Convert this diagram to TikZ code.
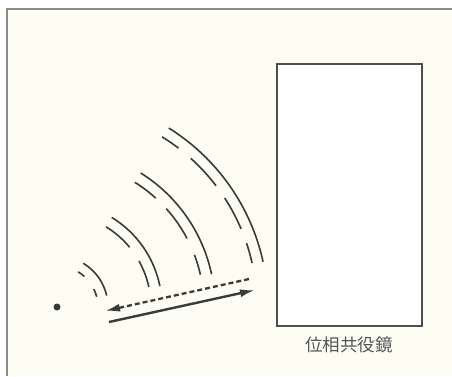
\documentclass[tikz,border=0pt]{standalone}
\usepackage{fontspec}
\newfontfamily\cjk{Noto Sans CJK JP}
\usetikzlibrary{arrows.meta}
\definecolor{paper}{HTML}{FDFDF3}
\definecolor{ink}{HTML}{3A3A3A}
\definecolor{labelgray}{HTML}{555555}
\tikzset{
  frameline/.style={draw=black!45, line width=1.2pt},
  wave/.style={draw=ink, line width=1.6pt},
  mirrorbox/.style={draw=ink!90, line width=1.9pt, fill=white, minimum width=145pt, minimum height=262pt, inner sep=0pt},
  srcdot/.style={circle, fill=ink, inner sep=0pt, minimum size=7pt},
  labeltext/.style={text=labelgray, font=\cjk\fontsize{17.5}{20}\selectfont, inner sep=0pt},
  outarrow/.style={draw=ink, line width=2.4pt, -{Latex[length=15pt,width=8pt]}},
  backarrow/.style={draw=ink, line width=2.3pt, dash pattern=on 5pt off 3pt, -{Latex[length=15pt,width=8pt]}}
}
\begin{document}
\begin{tikzpicture}[x=1pt,y=1pt]
\useasboundingbox (0,0) rectangle (452,376);
\fill[white] (0,0) rectangle (452,376);
\fill[paper] (7,0) rectangle (452,367);
\draw[frameline] (7,0) -- (7,367) -- (452,367);
% mirror
\node[mirrorbox] (mirror) at (349.5,181) {};
\node[labeltext] (lbl) at (349,31) {位相共役鏡};
% source
\node[srcdot] (src) at (57,69) {};
% solid outer arcs
\foreach \r/\a/\b in {51/13/59, 105/11.5/58.6, 158/12/58, 211/12.4/58}{
  \draw[wave] (src.center) ++(\a:\r pt) arc[start angle=\a, end angle=\b, radius=\r pt];
}
% dashed inner arcs
\foreach \r/\a/\b in {41/48/59, 41/14.5/26,
                      94/39.4/58.5, 94/12.3/29.3,
                      147/47.8/58, 147/27.8/42, 147/12.7/20.8,
                      200/52.6/58.3, 200/37.3/48, 200/23/33, 200/12.7/18.6}{
  \draw[wave] (src.center) ++(\a:\r pt) arc[start angle=\a, end angle=\b, radius=\r pt];
}
% arrows
\coordinate (b1) at (249,97);
\coordinate (b2) at (105,65);
\coordinate (o1) at (109,54);
\coordinate (o2) at (255,86);
\draw[backarrow] (b1) -- (b2);
\draw[outarrow] (o1) -- (o2);
\end{tikzpicture}
\end{document}
